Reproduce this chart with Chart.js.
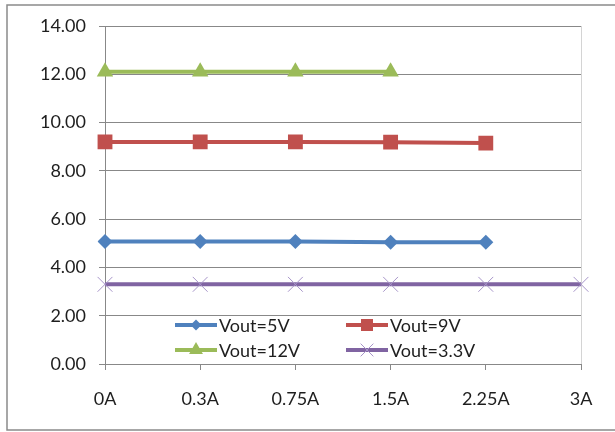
<!DOCTYPE html>
<html>
<head>
<meta charset="utf-8">
<script src="https://cdn.jsdelivr.net/npm/chart.js@4/dist/chart.umd.min.js"></script>
<style>
  html, body { margin: 0; padding: 0; background: #fff; }
  #wrap { width: 615px; height: 432px; position: relative; }
</style>
</head>
<body>
<div id="wrap"><canvas id="c" width="615" height="432"></canvas></div>
<script>
const categories = ['0A', '0.3A', '0.75A', '1.5A', '2.25A', '3A'];
const vout5  = [5.07, 5.07, 5.07, 5.04, 5.04, null];
const vout9  = [9.20, 9.20, 9.20, 9.19, 9.15, null];
const vout12 = [12.10, 12.10, 12.10, 12.10, null, null];
const vout33 = [3.30, 3.30, 3.30, 3.30, 3.30, 3.30];
const seriesNames = ['Vout=5V', 'Vout=9V', 'Vout=12V', 'Vout=3.3V'];
const yTicks = [0, 2, 4, 6, 8, 10, 12, 14];

const FONT = 'Lato, "Liberation Sans", sans-serif';
const TEXT = '#1e1e1e';
const GRID = '#888888';

function drawMarker(ctx, style, x, y, r, fill, stroke, lw) {
  ctx.save();
  ctx.fillStyle = fill;
  ctx.strokeStyle = stroke;
  ctx.lineWidth = lw;
  ctx.beginPath();
  if (style === 'rectRot') {
    ctx.moveTo(x, y - r); ctx.lineTo(x + r, y); ctx.lineTo(x, y + r); ctx.lineTo(x - r, y); ctx.closePath(); ctx.fill();
  } else if (style === 'rect') {
    const s = r * Math.SQRT1_2;
    ctx.rect(x - s, y - s, 2 * s, 2 * s); ctx.fill();
  } else if (style === 'triangle') {
    ctx.moveTo(x, y - r); ctx.lineTo(x + r * 0.866, y + r * 0.5); ctx.lineTo(x - r * 0.866, y + r * 0.5); ctx.closePath(); ctx.fill();
  } else if (style === 'crossRot') {
    const s = r * Math.SQRT1_2;
    ctx.moveTo(x - s, y - s); ctx.lineTo(x + s, y + s);
    ctx.moveTo(x + s, y - s); ctx.lineTo(x - s, y + s);
    ctx.stroke();
  }
  ctx.restore();
}

const legendInside = {
  id: 'legendInside',
  afterDatasetsDraw(chart) {
    const ctx = chart.ctx;
    const a = chart.chartArea;
    const colX = [a.left + 70, a.left + 241];
    const rowY = [a.bottom - 39, a.bottom - 14];
    const lineLen = 42;
    chart.data.datasets.forEach((ds, i) => {
      const x0 = colX[i % 2];
      const y0 = rowY[Math.floor(i / 2)];
      ctx.save();
      ctx.strokeStyle = ds.borderColor;
      ctx.lineWidth = ds.borderWidth;
      ctx.beginPath();
      ctx.moveTo(x0, y0); ctx.lineTo(x0 + lineLen, y0);
      ctx.stroke();
      ctx.restore();
      const lr = ds.legendRadius;
      drawMarker(ctx, ds.pointStyle, x0 + lineLen / 2, y0, lr, ds.pointBackgroundColor, ds.pointBorderColor, ds.pointBorderWidth);
      ctx.save();
      ctx.fillStyle = TEXT;
      ctx.font = '18px ' + FONT;
      ctx.textBaseline = 'middle';
      ctx.textAlign = 'left';
      ctx.fillText(ds.label, x0 + lineLen + 2, y0 + 1);
      ctx.restore();
    });
  }
};

const outerBorder = {
  id: 'outerBorder',
  afterDraw(chart) {
    const ctx = chart.ctx;
    ctx.save();
    ctx.strokeStyle = '#8a8a8a';
    ctx.lineWidth = 1.5;
    ctx.strokeRect(7, 5, 640, 425);
    ctx.restore();
  }
};

function mk(label, data, color, style, r, lr, fill, stroke, pbw) {
  return {
    label: label,
    data: data,
    borderColor: color,
    backgroundColor: color,
    borderWidth: 4,
    pointStyle: style,
    pointRadius: r,
    pointHoverRadius: r,
    pointBackgroundColor: fill,
    pointBorderColor: stroke,
    pointBorderWidth: pbw,
    legendRadius: lr,
    tension: 0,
    fill: false,
    spanGaps: false
  };
}

const datasets = [
  mk(seriesNames[0], vout5,  '#4F81BD', 'rectRot', 7.5, 5.5, '#4F81BD', '#4F81BD', 0),
  mk(seriesNames[1], vout9,  '#C0504D', 'rect', 10.5, 8.5, '#C0504D', '#C0504D', 0),
  mk(seriesNames[2], vout12, '#9BBB59', 'triangle', 9.5, 8, '#9BBB59', '#9BBB59', 0),
  mk(seriesNames[3], vout33, '#8064A2', 'crossRot', 10.5, 9, '#A795C9', '#A795C9', 1)
];
datasets[3].pointBackgroundColor = 'rgba(0,0,0,0)';

new Chart(document.getElementById('c'), {
  type: 'line',
  data: { labels: categories, datasets: datasets },
  options: {
    responsive: false,
    animation: false,
    devicePixelRatio: 1,
    layout: { padding: { left: 0, top: 26, right: 34, bottom: 0 } },
    plugins: {
      legend: { display: false },
      tooltip: { enabled: false }
    },
    elements: { line: { borderCapStyle: 'butt', borderJoinStyle: 'round' } },
    scales: {
      x: {
        type: 'category',
        offset: false,
        afterFit(scale) { scale.height = 68; },
        grid: {
          drawOnChartArea: true,
          color: (c) => c.index === categories.length - 1 ? '#d4d4d4' : 'rgba(0,0,0,0)',
          tickColor: GRID,
          tickLength: 6,
          lineWidth: 1
        },
        border: { display: true, color: GRID, width: 1 },
        ticks: {
          color: TEXT,
          font: { family: FONT, size: 18 },
          padding: 18,
          maxRotation: 0,
          autoSkip: false
        }
      },
      y: {
        min: yTicks[0],
        max: yTicks[yTicks.length - 1],
        afterFit(scale) { scale.width = 105; },
        afterBuildTicks(scale) { scale.ticks = yTicks.map(v => ({ value: v })); },
        grid: {
          color: GRID,
          tickColor: GRID,
          tickLength: 6,
          lineWidth: 1
        },
        border: { display: true, color: GRID, width: 1 },
        ticks: {
          color: TEXT,
          font: { family: FONT, size: 18 },
          padding: 13,
          callback: (v) => Number(v).toFixed(2)
        }
      }
    }
  },
  plugins: [legendInside, outerBorder]
});
</script>
</body>
</html>
